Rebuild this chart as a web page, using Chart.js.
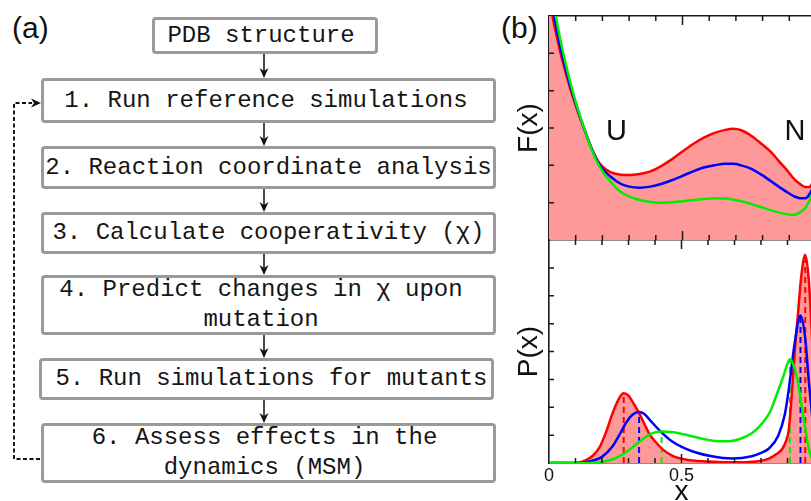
<!DOCTYPE html>
<html>
<head>
<meta charset="utf-8">
<script src="https://cdn.jsdelivr.net/npm/chart.js@4.4.1/dist/chart.umd.min.js"></script>
<style>
  html, body { margin: 0; padding: 0; background: #fff; }
  body { width: 811px; height: 501px; overflow: hidden; position: relative; font-family: "Liberation Sans", Arial, sans-serif; }
  .panel-tag { position: absolute; font-size: 30px; line-height: 30px; color: #111; }
  .step {
    position: absolute; box-sizing: border-box;
    border: 3px solid #9a9a9a; border-radius: 4px; background: #fff;
    display: flex; align-items: center; justify-content: center; text-align: center;
    font-family: "Liberation Mono", "Courier New", monospace; font-size: 24px; line-height: 30px;
    color: #151515; white-space: pre;
  }
  #flow { position: absolute; left: 0; top: 0; }
  canvas { position: absolute; }
</style>
</head>
<body>
<div class="panel-tag" style="left:12px; top:13px">(a)</div>
<div class="panel-tag" style="left:501px; top:13px">(b)</div>

<!-- arrows between the steps and the dashed loop back to step 1 -->
<svg id="flow" width="500" height="501">
  <g stroke="#111" stroke-width="1.5" fill="none">
    <path d="M264,54 V71 M264,123 V139 M264,189 V205 M264,254 V268 M264,335 V351 M264,400 V416"/>
    <path d="M40,459 H14 V103 H32" stroke-width="1.9" stroke-dasharray="4,2.5"/>
  </g>
  <g fill="#111">
    <path d="M264,78 L259.5,68 L264,71 L268.5,68 Z"/>
    <path d="M264,146 L259.5,136 L264,139 L268.5,136 Z"/>
    <path d="M264,212 L259.5,202 L264,205 L268.5,202 Z"/>
    <path d="M264,275 L259.5,265 L264,268 L268.5,265 Z"/>
    <path d="M264,358 L259.5,348 L264,351 L268.5,348 Z"/>
    <path d="M264,423 L259.5,413 L264,416 L268.5,413 Z"/>
    <path d="M41,103 L31,98.5 L34,103 L31,107.5 Z"/>
  </g>
</svg>

<div class="step" style="left:152px; top:17px; width:226px; height:37px; padding-right:8px">PDB structure</div>
<div class="step" style="left:41px; top:78px; width:455px; height:45px; padding-right:5px">1. Run reference simulations</div>
<div class="step" style="left:41px; top:146px; width:455px; height:43px">2. Reaction coordinate analysis</div>
<div class="step" style="left:41px; top:212px; width:455px; height:42px">3. Calculate cooperativity (χ)</div>
<div class="step" style="left:41px; top:275px; width:455px; height:60px; padding-right:15px">4. Predict changes in χ upon
mutation</div>
<div class="step" style="left:39px; top:358px; width:455px; height:42px; padding-left:10px">5. Run simulations for mutants</div>
<div class="step" style="left:41px; top:423px; width:455px; height:60px; padding-right:8px">6. Assess effects in the
dynamics (MSM)</div>

<canvas id="freeEnergy" width="326" height="246" style="left:490px; top:0px"></canvas>
<canvas id="probability" width="326" height="280" style="left:490px; top:236px"></canvas>

<script>
// free energy profiles F(x) along the reaction coordinate
const xF = [0, 0.02, 0.04, 0.06, 0.08, 0.10, 0.12, 0.14, 0.16, 0.19, 0.23, 0.27, 0.30, 0.34, 0.38, 0.42,
  0.46, 0.50, 0.54, 0.58, 0.62, 0.66, 0.69, 0.72, 0.76, 0.80, 0.83, 0.86, 0.89, 0.915, 0.94, 0.96, 0.975, 0.99, 1.0]
const fRed = [6.45, 5.75, 5.1, 4.55, 4.05, 3.6, 3.2, 2.82, 2.45, 2.05, 1.82, 1.75, 1.74, 1.77, 1.84, 1.98,
  2.16, 2.37, 2.57, 2.74, 2.87, 2.95, 2.98, 2.94, 2.78, 2.55, 2.37, 2.12, 1.88, 1.66, 1.5, 1.42, 1.42, 1.6, 1.85]
const fBlue = [6.65, 5.95, 5.25, 4.65, 4.12, 3.65, 3.22, 2.82, 2.44, 2.0, 1.7, 1.5, 1.43, 1.40, 1.43, 1.5,
  1.6, 1.72, 1.84, 1.94, 2.0, 2.04, 2.04, 2.0, 1.9, 1.73, 1.58, 1.43, 1.29, 1.18, 1.12, 1.12, 1.22, 1.45, 1.7]
const fGreen = [6.9, 6.2, 5.45, 4.8, 4.22, 3.7, 3.24, 2.82, 2.42, 1.96, 1.56, 1.28, 1.17, 1.07, 1.02, 1.0,
  1.01, 1.04, 1.07, 1.1, 1.12, 1.11, 1.08, 1.04, 0.96, 0.87, 0.8, 0.74, 0.69, 0.67, 0.74, 0.86, 1.05, 1.3, 1.5]

// probability distributions P(x)
const xPRed = [0, 0.08, 0.115, 0.14, 0.165, 0.19, 0.215, 0.24, 0.265, 0.282, 0.30, 0.32, 0.34, 0.36, 0.38, 0.40,
  0.43, 0.47, 0.52, 0.58, 0.66, 0.74, 0.79, 0.83, 0.86, 0.88, 0.895, 0.905, 0.915, 0.927, 0.94, 0.952, 0.967, 0.98, 0.99, 1.0]
const pRed = [0, 0, 0.02, 0.1, 0.26, 0.55, 1.1, 1.79, 2.33, 2.5, 2.42, 2.12, 1.79, 1.4, 1.02, 0.78,
  0.48, 0.24, 0.12, 0.06, 0.03, 0.03, 0.06, 0.16, 0.33, 0.5, 0.8, 1.2, 2.3, 3.95, 5.4, 6.7, 7.47, 6.6, 5.0, 3.0]
const xPBlue = [0, 0.1, 0.14, 0.17, 0.20, 0.24, 0.27, 0.29, 0.315, 0.34, 0.36, 0.38, 0.415, 0.465, 0.54, 0.615,
  0.69, 0.765, 0.80, 0.83, 0.865, 0.89, 0.905, 0.927, 0.949, 0.966, 0.981, 1.0]
const pBlue = [0, 0, 0.03, 0.1, 0.22, 0.6, 1.08, 1.43, 1.73, 1.83, 1.76, 1.55, 1.19, 0.77, 0.42, 0.24,
  0.16, 0.24, 0.36, 0.52, 0.98, 1.75, 2.65, 4.3, 5.29, 4.54, 2.87, 1.0]
const xPGreen = [0, 0.15, 0.19, 0.23, 0.265, 0.3, 0.327, 0.355, 0.377, 0.40, 0.425, 0.45, 0.49, 0.53, 0.565, 0.60,
  0.64, 0.68, 0.72, 0.765, 0.79, 0.815, 0.835, 0.852, 0.868, 0.884, 0.897, 0.909, 0.925, 0.94, 0.955, 0.966, 0.981, 0.995]
const pGreen = [0, 0, 0.03, 0.1, 0.24, 0.45, 0.66, 0.86, 1.01, 1.1, 1.13, 1.12, 1.07, 0.98, 0.9, 0.83,
  0.78, 0.78, 0.86, 1.07, 1.27, 1.55, 1.85, 2.27, 2.68, 3.1, 3.48, 3.72, 3.45, 2.87, 1.95, 1.31, 0.48, 0.1]

// peak positions marked with dashed stems
const peakRedX = [0.282, 0.967], peakRedP = [2.5, 7.47]
const peakBlueX = [0.34, 0.949], peakBlueP = [1.83, 5.29]
const peakGreenX = [0.425, 0.909], peakGreenP = [1.13, 3.72]

const stateNames = ["U", "N"]
const xTickValues = [0, 0.5]
const xTickText = ["0", "0.5"]

const RED = "#ff0000"
const BLUE = "#0000ff"
const GREEN = "#00ee00"
const PINK = "#ff9999"
const FRAME = "#1a1a1a"
const FONT = '"Liberation Sans", Arial, sans-serif'

Chart.defaults.font.family = FONT
Chart.defaults.color = "#111"

const pts = (xs, ys) => xs.map((x, i) => ({ x, y: ys[i] }))
const stems = (xs, ys) => xs.flatMap((x, i) => [{ x, y: 0 }, { x, y: ys[i] }, { x, y: null }])

// short tick marks drawn on the inner side of the frame
const innerTicks = {
  id: "innerTicks",
  afterDraw(chart) {
    const { ctx, chartArea: a, scales: { x, y } } = chart
    ctx.save()
    ctx.strokeStyle = FRAME
    ctx.lineWidth = 1.5
    ctx.beginPath()
    x.ticks.forEach((t) => {
      if (t.value <= x.min + 1e-9 || t.value >= x.max - 1e-9) return
      const px = x.getPixelForValue(t.value)
      const len = Math.abs(t.value - 0.5) < 1e-9 ? 9 : 5
      ctx.moveTo(px, a.top)
      ctx.lineTo(px, a.top + len)
      ctx.moveTo(px, a.bottom)
      ctx.lineTo(px, a.bottom - len)
    })
    y.ticks.forEach((t) => {
      if (t.value <= y.min || t.value >= y.max) return
      const py = y.getPixelForValue(t.value)
      ctx.moveTo(a.left, py)
      ctx.lineTo(a.left + 5, py)
    })
    ctx.stroke()
    ctx.restore()
  },
}

// U / N state labels placed in data coordinates
const stateLabels = {
  id: "stateLabels",
  afterDatasetsDraw(chart, args, opts) {
    const { ctx, scales: { x, y } } = chart
    ctx.save()
    ctx.font = "29px " + FONT
    ctx.fillStyle = "#111"
    ctx.textAlign = "center"
    ctx.textBaseline = "alphabetic"
    opts.items.forEach((it) => ctx.fillText(it.text, x.getPixelForValue(it.x), y.getPixelForValue(it.y)))
    ctx.restore()
  },
}

const frameAxis = (extra) => Object.assign({
  type: "linear",
  grid: { display: false, drawTicks: false },
  border: { display: true, color: FRAME, width: 1.6 },
}, extra)

const common = {
  responsive: false,
  animation: false,
  events: [],
  elements: {
    point: { radius: 0 },
    line: { borderWidth: 2.5, cubicInterpolationMode: "monotone" },
  },
}

// F(x)
new Chart(document.getElementById("freeEnergy"), {
  type: "line",
  plugins: [innerTicks, stateLabels],
  data: {
    datasets: [
      { data: pts(xF, fGreen), borderColor: GREEN },
      { data: pts(xF, fBlue), borderColor: BLUE },
      { data: pts(xF, fRed), borderColor: RED, fill: "origin", backgroundColor: PINK },
    ],
  },
  options: {
    ...common,
    layout: { padding: { top: 16, right: 0, bottom: 0, left: 0 } },
    plugins: {
      legend: { display: false },
      tooltip: { enabled: false },
      filler: { drawTime: "beforeDatasetsDraw" },
      stateLabels: {
        items: [
          { text: stateNames[0], x: 0.253, y: 2.68 },
          { text: stateNames[1], x: 0.921, y: 2.68 },
        ],
      },
    },
    scales: {
      x: frameAxis({
        position: "bottom", min: 0, max: 1,
        ticks: { stepSize: 0.1, display: false },
        afterFit: (s) => { s.height = 6 },
      }),
      xTop: frameAxis({
        position: "top", min: 0, max: 1,
        ticks: { stepSize: 0.1, display: false },
        afterFit: (s) => { s.height = 0 },
      }),
      y: frameAxis({
        position: "left", min: 0, max: 6,
        ticks: { stepSize: 1, display: false },
        title: { display: true, text: "F(x)", font: { size: 28 }, padding: { top: 22, bottom: 0 } },
        afterFit: (s) => { s.width = 59 },
      }),
    },
  },
})

// P(x)
new Chart(document.getElementById("probability"), {
  type: "line",
  plugins: [innerTicks],
  data: {
    datasets: [
      { data: pts(xPGreen, pGreen), borderColor: GREEN },
      { data: pts(xPBlue, pBlue), borderColor: BLUE },
      { data: pts(xPRed, pRed), borderColor: RED, fill: "origin", backgroundColor: PINK },
      { data: stems(peakGreenX, peakGreenP), borderColor: GREEN, borderWidth: 2, borderDash: [6, 4], cubicInterpolationMode: "default", tension: 0 },
      { data: stems(peakBlueX, peakBlueP), borderColor: BLUE, borderWidth: 2, borderDash: [6, 4], cubicInterpolationMode: "default", tension: 0 },
      { data: stems(peakRedX, peakRedP), borderColor: RED, borderWidth: 2, borderDash: [6, 4], cubicInterpolationMode: "default", tension: 0 },
    ],
  },
  options: {
    ...common,
    layout: { padding: { top: 4, right: 0, bottom: 0, left: 0 } },
    plugins: {
      legend: { display: false },
      tooltip: { enabled: false },
      filler: { drawTime: "beforeDatasetsDraw" },
    },
    scales: {
      x: frameAxis({
        position: "bottom", min: 0, max: 1,
        ticks: {
          stepSize: 0.1, autoSkip: false, maxRotation: 0, padding: 2,
          font: { size: 18, lineHeight: 1.2 },
          callback: (v) => {
            const i = xTickValues.findIndex((t) => Math.abs(t - v) < 1e-9)
            return i < 0 ? "" : xTickText[i]
          },
        },
        title: { display: true, text: "x", font: { size: 28 }, padding: { top: 0, bottom: 7 } },
        afterFit: (s) => { s.height = 53 },
      }),
      y: frameAxis({
        position: "left", min: 0, max: 8,
        ticks: { stepSize: 1, display: false },
        title: { display: true, text: "P(x)", font: { size: 28 }, padding: { top: 22, bottom: 0 } },
        afterFit: (s) => { s.width = 59 },
      }),
    },
  },
})
</script>
</body>
</html>
